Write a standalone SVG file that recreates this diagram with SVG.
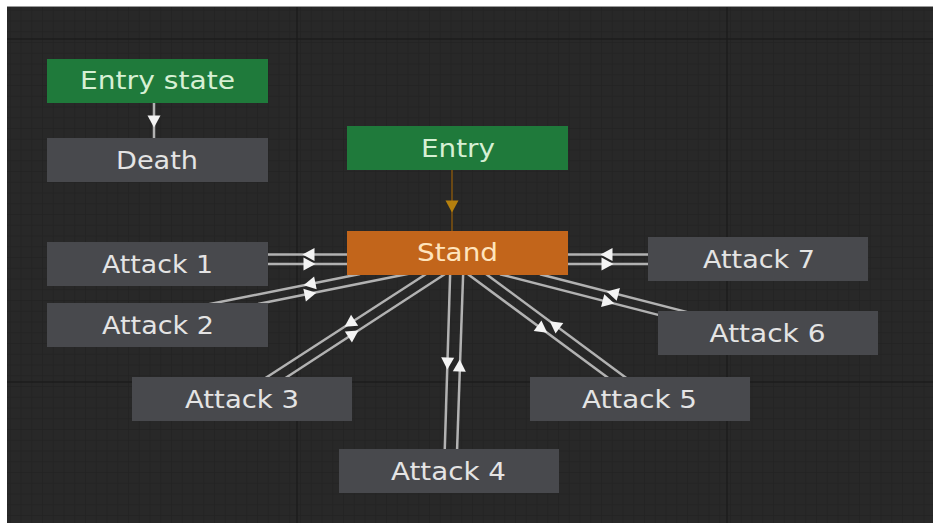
<svg xmlns="http://www.w3.org/2000/svg" xmlns:xlink="http://www.w3.org/1999/xlink" width="933" height="523" viewBox="0 0 933 523">
  <defs>
    <pattern id="gridMinor" width="10.75" height="10.75" patternUnits="userSpaceOnUse">
      <path d="M10.75 0V10.75H0" fill="none" stroke="#202020" stroke-width="1"/>
    </pattern>
    <path id="arrow" d="M6.5,0 L-5.5,-6.5 L-5.5,6.5 Z"/>
    <style>
      .node rect { stroke: none; }
      .gray rect { fill: #48494d; }
      .green rect { fill: #1f7a3b; }
      .orange rect { fill: #c2651b; }
      .node text { font-family: "DejaVu Sans", "Liberation Sans", sans-serif; font-size: 24px; text-anchor: middle; }
      .gray text { fill: #e4e4e4; }
      .green text { fill: #d6f0d4; }
      .orange text { fill: #ffe4bd; }
      .link { stroke: #b2b2b2; stroke-width: 2.5; fill: none; }
      .head { fill: #f4f4f4; }
      .entryLink { stroke: #6a4814; stroke-width: 2; fill: none; }
      .entryHead { fill: #b5800e; }
    </style>
  </defs>

  <!-- canvas -->
  <rect x="0" y="0" width="933" height="523" fill="#ffffff"/>
  <rect x="7" y="6" width="926" height="517" fill="#282828"/>
  <rect x="7" y="6" width="926" height="517" fill="url(#gridMinor)"/>
  <g stroke="#1c1c1c" stroke-width="1.5">
    <line x1="297" y1="6" x2="297" y2="523"/>
    <line x1="727" y1="6" x2="727" y2="523"/>
    <line x1="7" y1="39" x2="933" y2="39"/>
    <line x1="7" y1="382" x2="933" y2="382"/>
  </g>
  <line x1="7" y1="6.5" x2="933" y2="6.5" stroke="#9a9a9a" stroke-width="1"/>

  <!-- transitions -->
  <g id="connectors">
    <!-- Entry state -> Death -->
    <line class="link" x1="154" y1="103" x2="154" y2="138"/>
    <use xlink:href="#arrow" class="head" transform="translate(154,121) rotate(90)"/>

    <!-- Entry -> Stand -->
    <line class="entryLink" x1="452" y1="170" x2="452" y2="231"/>
    <use xlink:href="#arrow" class="entryHead" transform="translate(452,206) rotate(90)"/>

    <!-- Stand <-> Attack 1 -->
    <line class="link" x1="260" y1="254.5" x2="355" y2="254.5"/>
    <line class="link" x1="260" y1="264" x2="355" y2="264"/>
    <use xlink:href="#arrow" class="head" transform="translate(309,254.5) rotate(180)"/>
    <use xlink:href="#arrow" class="head" transform="translate(309,264)"/>

    <!-- Stand <-> Attack 7 -->
    <line class="link" x1="560" y1="254.5" x2="655" y2="254.5"/>
    <line class="link" x1="560" y1="264" x2="655" y2="264"/>
    <use xlink:href="#arrow" class="head" transform="translate(607,254.5) rotate(180)"/>
    <use xlink:href="#arrow" class="head" transform="translate(607,264)"/>

    <!-- Stand <-> Attack 2 -->
    <line class="link" x1="205" y1="305" x2="360" y2="274"/>
    <line class="link" x1="258" y1="304" x2="410" y2="273.6"/>
    <use xlink:href="#arrow" class="head" transform="translate(310,284) rotate(168.7)"/>
    <use xlink:href="#arrow" class="head" transform="translate(310,294) rotate(-11.3)"/>

    <!-- Stand <-> Attack 3 -->
    <line class="link" x1="262" y1="380.2" x2="428" y2="272.8"/>
    <line class="link" x1="282" y1="380.3" x2="447" y2="272.7"/>
    <use xlink:href="#arrow" class="head" transform="translate(350,323.3) rotate(147)"/>
    <use xlink:href="#arrow" class="head" transform="translate(353,334) rotate(-33)"/>

    <!-- Stand <-> Attack 4 -->
    <line class="link" x1="450.2" y1="272" x2="444.6" y2="455"/>
    <line class="link" x1="463.2" y1="272" x2="456.9" y2="455"/>
    <use xlink:href="#arrow" class="head" transform="translate(447.5,363) rotate(91.7)"/>
    <use xlink:href="#arrow" class="head" transform="translate(459.5,366) rotate(-88.3)"/>

    <!-- Stand <-> Attack 5 -->
    <line class="link" x1="468" y1="274.3" x2="611" y2="380"/>
    <line class="link" x1="486" y1="274" x2="629" y2="380"/>
    <use xlink:href="#arrow" class="head" transform="translate(542,329) rotate(36.5)"/>
    <use xlink:href="#arrow" class="head" transform="translate(555,325) rotate(216.5)"/>

    <!-- Stand <-> Attack 6 -->
    <line class="link" x1="540" y1="274.2" x2="700" y2="315.4"/>
    <line class="link" x1="500" y1="274.2" x2="665" y2="316.6"/>
    <use xlink:href="#arrow" class="head" transform="translate(613,293) rotate(194.4)"/>
    <use xlink:href="#arrow" class="head" transform="translate(608,302) rotate(14.4)"/>
  </g>

  <!-- states -->
  <g id="entry-state" class="node green">
    <rect x="47" y="59" width="221" height="44"/>
    <text x="157.5" y="89" textLength="155" lengthAdjust="spacingAndGlyphs">Entry state</text>
  </g>
  <g id="death" class="node gray">
    <rect x="47" y="138" width="221" height="44"/>
    <text x="157" y="168.5" textLength="82" lengthAdjust="spacingAndGlyphs">Death</text>
  </g>
  <g id="entry" class="node green">
    <rect x="347" y="126" width="221" height="44"/>
    <text x="458" y="156.5" textLength="74" lengthAdjust="spacingAndGlyphs">Entry</text>
  </g>
  <g id="stand" class="node orange">
    <rect x="347" y="231" width="221" height="44"/>
    <text x="457.5" y="261" textLength="81" lengthAdjust="spacingAndGlyphs">Stand</text>
  </g>
  <g id="attack-1" class="node gray">
    <rect x="47" y="242" width="221" height="44"/>
    <text x="157.5" y="272.5" textLength="111" lengthAdjust="spacingAndGlyphs">Attack 1</text>
  </g>
  <g id="attack-2" class="node gray">
    <rect x="47" y="303" width="221" height="44"/>
    <text x="158" y="333.5" textLength="112" lengthAdjust="spacingAndGlyphs">Attack 2</text>
  </g>
  <g id="attack-3" class="node gray">
    <rect x="132" y="377" width="220" height="44"/>
    <text x="242" y="407.5" textLength="114" lengthAdjust="spacingAndGlyphs">Attack 3</text>
  </g>
  <g id="attack-4" class="node gray">
    <rect x="339" y="449" width="220" height="44"/>
    <text x="448.5" y="479.5" textLength="115" lengthAdjust="spacingAndGlyphs">Attack 4</text>
  </g>
  <g id="attack-5" class="node gray">
    <rect x="530" y="377" width="220" height="44"/>
    <text x="639.5" y="407.5" textLength="115" lengthAdjust="spacingAndGlyphs">Attack 5</text>
  </g>
  <g id="attack-6" class="node gray">
    <rect x="658" y="311" width="220" height="44"/>
    <text x="767.5" y="341.5" textLength="116" lengthAdjust="spacingAndGlyphs">Attack 6</text>
  </g>
  <g id="attack-7" class="node gray">
    <rect x="648" y="237" width="220" height="44"/>
    <text x="759" y="267.5" textLength="112" lengthAdjust="spacingAndGlyphs">Attack 7</text>
  </g>
</svg>
